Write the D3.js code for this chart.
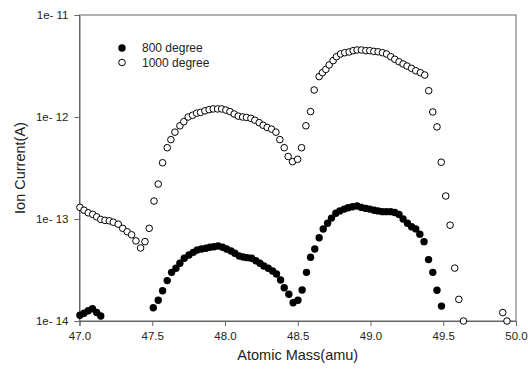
<!DOCTYPE html>
<html>
<head>
<meta charset="utf-8">
<script src="https://cdn.jsdelivr.net/npm/d3@7"></script>
<style>
  body { margin: 0; background: #fff; }
  text { font-family: Arial, "Liberation Sans", sans-serif; }
</style>
</head>
<body>
<div id="chart"></div>
<script>
// Ion current vs atomic mass, two furnace temperatures

// 800 degree (filled markers)
const mass800 = [
    47.003, 47.031, 47.060, 47.089, 47.118, 47.146,
    47.507, 47.541, 47.571, 47.603, 47.633, 47.663, 47.690, 47.720, 47.752, 47.782,
    47.809, 47.839, 47.869, 47.896, 47.924, 47.953, 47.984, 48.011, 48.041, 48.068,
    48.098, 48.125, 48.153, 48.183, 48.212, 48.240, 48.267, 48.297, 48.327, 48.354,
    48.382, 48.407, 48.439, 48.468, 48.501, 48.530, 48.560, 48.588, 48.617, 48.647,
    48.675, 48.705, 48.732, 48.762, 48.789, 48.819, 48.846, 48.876, 48.908, 48.938,
    48.968, 48.995, 49.025, 49.052, 49.082, 49.110, 49.139, 49.167, 49.196, 49.224,
    49.254, 49.282, 49.311, 49.339, 49.368, 49.399, 49.428, 49.457, 49.488
];
const current800 = [
    1.14e-14, 1.19e-14, 1.26e-14, 1.32e-14, 1.21e-14, 1.12e-14,
    1.35e-14, 1.60e-14, 1.98e-14, 2.49e-14, 3.00e-14, 3.29e-14, 3.68e-14, 4.12e-14, 4.44e-14, 4.71e-14,
    4.96e-14, 5.08e-14, 5.16e-14, 5.28e-14, 5.35e-14, 5.43e-14, 5.28e-14, 5.08e-14, 4.86e-14, 4.61e-14,
    4.34e-14, 4.24e-14, 4.18e-14, 4.12e-14, 3.90e-14, 3.68e-14, 3.46e-14, 3.29e-14, 3.09e-14, 2.89e-14,
    2.52e-14, 2.12e-14, 1.83e-14, 1.51e-14, 1.60e-14, 2.01e-14, 3.00e-14, 4.21e-14, 5.08e-14, 6.56e-14,
    7.98e-14, 9.10e-14, 1.02e-13, 1.14e-13, 1.20e-13, 1.25e-13, 1.29e-13, 1.32e-13, 1.34e-13, 1.30e-13,
    1.27e-13, 1.25e-13, 1.22e-13, 1.20e-13, 1.18e-13, 1.18e-13, 1.18e-13, 1.16e-13, 1.11e-13, 1.00e-13,
    9.10e-14, 8.40e-14, 8.00e-14, 7.10e-14, 6.00e-14, 4.00e-14, 3.00e-14, 2.00e-14, 1.40e-14
];

// 1000 degree (open markers)
const mass1000 = [
    47.003, 47.031, 47.060, 47.091, 47.118, 47.146, 47.175, 47.205, 47.232, 47.266,
    47.297, 47.328, 47.358, 47.388, 47.420, 47.450, 47.479, 47.512, 47.541,
    47.571, 47.603, 47.628, 47.656, 47.690, 47.717, 47.747, 47.777, 47.805, 47.832,
    47.862, 47.891, 47.919, 47.949, 47.977, 48.006, 48.034, 48.063, 48.091, 48.121,
    48.148, 48.178, 48.205, 48.235, 48.262, 48.290, 48.320, 48.350, 48.377, 48.407,
    48.434, 48.464, 48.499, 48.526, 48.556, 48.588,
    48.613, 48.647, 48.670, 48.693, 48.716, 48.743, 48.766, 48.794, 48.823, 48.853,
    48.881, 48.908, 48.938, 48.968, 48.995, 49.023, 49.052, 49.082, 49.110, 49.139,
    49.167, 49.196, 49.224, 49.251, 49.282, 49.311, 49.343, 49.373, 49.400, 49.428,
    49.457, 49.486, 49.517, 49.547, 49.579, 49.607, 49.639, 49.909, 49.938
];
const current1000 = [
    1.30e-13, 1.22e-13, 1.15e-13, 1.11e-13, 1.05e-13, 9.9e-14, 9.7e-14, 9.6e-14, 9.3e-14, 8.9e-14,
    8.1e-14, 7.5e-14, 7.0e-14, 6.1e-14, 5.2e-14, 6.0e-14, 8.1e-14, 1.50e-13, 2.20e-13,
    3.56e-13, 5.0e-13, 6.0e-13, 7.1e-13, 8.2e-13, 9.0e-13, 1.00e-12, 1.04e-12, 1.09e-12, 1.11e-12,
    1.15e-12, 1.18e-12, 1.20e-12, 1.20e-12, 1.20e-12, 1.17e-12, 1.13e-12, 1.07e-12, 1.02e-12, 1.00e-12,
    9.9e-13, 9.7e-13, 9.3e-13, 8.8e-13, 8.3e-13, 7.9e-13, 7.6e-13, 7.1e-13, 6.0e-13, 5.0e-13,
    4.1e-13, 3.65e-13, 3.85e-13, 5.0e-13, 8.2e-13, 1.13e-12,
    1.84e-12, 2.49e-12, 2.72e-12, 2.93e-12, 3.24e-12, 3.57e-12, 3.90e-12, 4.15e-12, 4.27e-12, 4.34e-12,
    4.47e-12, 4.54e-12, 4.54e-12, 4.47e-12, 4.47e-12, 4.40e-12, 4.36e-12, 4.27e-12, 4.15e-12, 3.90e-12,
    3.68e-12, 3.48e-12, 3.31e-12, 3.16e-12, 3.00e-12, 2.84e-12, 2.72e-12, 2.58e-12, 1.81e-12, 1.12e-12,
    8.0e-13, 3.6e-13, 1.68e-13, 8.7e-14, 3.3e-14, 1.63e-14, 1.00e-14, 1.21e-14, 1.00e-14
];

const xTicks = [47.0, 47.5, 48.0, 48.5, 49.0, 49.5, 50.0];
const yTicks = [1e-14, 1e-13, 1e-12, 1e-11];
const seriesNames = ["800 degree", "1000 degree"];

const dims = {
    width: 528,
    height: 370,
    margin: { top: 15, right: 12, bottom: 49, left: 79.5 }
};

const svg = d3.select("#chart")
    .append("svg")
    .attr("width", dims.width)
    .attr("height", dims.height);

const x = d3.scaleLinear()
    .domain([47, 50])
    .range([dims.margin.left, dims.width - dims.margin.right]);

const y = d3.scaleLog()
    .domain([1e-14, 1e-11])
    .range([dims.height - dims.margin.bottom, dims.margin.top]);

const axisColor = "#666";

// frame (top + right)
svg.append("rect")
    .attr("x", x(47))
    .attr("y", y(1e-11))
    .attr("width", x(50) - x(47))
    .attr("height", y(1e-14) - y(1e-11))
    .attr("fill", "none")
    .attr("stroke", axisColor)
    .attr("stroke-width", 1);

// axes
const xAxis = svg.append("g")
    .attr("transform", `translate(0, ${y(1e-14)})`)
    .call(d3.axisBottom(x).tickValues(xTicks).tickFormat(d3.format(".1f")).tickSize(5).tickPadding(6));

const yAxis = svg.append("g")
    .attr("transform", `translate(${x(47)}, 0)`)
    .call(d3.axisLeft(y).tickValues(yTicks)
        .tickFormat(d => "1e- " + Math.round(-Math.log10(d)))
        .tickSize(5).tickPadding(6));

[xAxis, yAxis].forEach(g => {
    g.select(".domain").attr("stroke", axisColor);
    g.selectAll(".tick line").attr("stroke", axisColor);
    g.selectAll(".tick text")
        .attr("fill", "#222")
        .style("font-size", "11.5px")
        .style("font-family", "Arial, 'Liberation Sans', sans-serif");
});

// axis titles
svg.append("text")
    .attr("x", (x(47) + x(50)) / 2)
    .attr("y", 360)
    .attr("text-anchor", "middle")
    .attr("font-size", "14.5px")
    .attr("fill", "#222")
    .text("Atomic Mass(amu)");

svg.append("text")
    .attr("transform", `translate(25, ${(y(1e-11) + y(1e-14)) / 2}) rotate(-90)`)
    .attr("text-anchor", "middle")
    .attr("font-size", "14.5px")
    .attr("fill", "#222")
    .text("Ion Current(A)");

// data points (drop anything below the axis floor)
const data1000 = mass1000.map((m, i) => ({ m, v: current1000[i] })).filter(d => d.v >= 1e-14);
const data800 = mass800.map((m, i) => ({ m, v: current800[i] })).filter(d => d.v >= 1e-14);

svg.selectAll("circle.open")
    .data(data1000)
    .enter()
    .append("circle")
    .attr("class", "open")
    .attr("cx", d => x(d.m))
    .attr("cy", d => y(d.v))
    .attr("r", 3.3)
    .attr("fill", "#fff")
    .attr("stroke", "#000")
    .attr("stroke-width", 1);

svg.selectAll("circle.filled")
    .data(data800)
    .enter()
    .append("circle")
    .attr("class", "filled")
    .attr("cx", d => x(d.m))
    .attr("cy", d => y(d.v))
    .attr("r", 3.7)
    .attr("fill", "#000");

// legend
const legend = svg.append("g").attr("transform", "translate(122, 48)");
seriesNames.forEach((name, i) => {
    const row = legend.append("g").attr("transform", `translate(0, ${i * 14.5})`);
    row.append("circle")
        .attr("r", i === 0 ? 3.7 : 3.3)
        .attr("fill", i === 0 ? "#000" : "#fff")
        .attr("stroke", "#000")
        .attr("stroke-width", i === 0 ? 0 : 1);
    row.append("text")
        .attr("x", 20)
        .attr("y", 4.3)
        .attr("font-size", "12px")
        .attr("fill", "#222")
        .text(name);
});
</script>
</body>
</html>
